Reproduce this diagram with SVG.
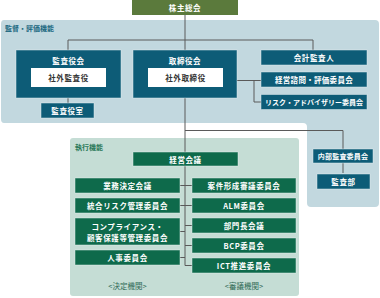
<svg xmlns="http://www.w3.org/2000/svg" width="380" height="298" viewBox="0 0 380 298">
<style>
text{font-family:"Noto Sans CJK JP","Noto Sans",sans-serif;font-weight:bold;text-anchor:middle;dominant-baseline:central}
.t{fill:#0d5c77;stroke:#e6f0f3;stroke-width:0.8;stroke-opacity:0.6}
.g{fill:#0e6a4b;stroke:#e6f2ee;stroke-width:0.8;stroke-opacity:0.6}
.w{fill:#ffffff}
.wt{fill:#ffffff;font-size:7.5px;letter-spacing:0.6px}
.dt{fill:#333333;font-size:7.5px;letter-spacing:0.6px}
.ln{fill:none;stroke:#5a5a5a;stroke-width:1}
.cap{font-size:7px;text-anchor:start}
</style>
<g id="panels">
<path d="M4,20 H375 Q379,20 379,24 V203 Q379,207 375,207 H311 Q307,207 307,203 V127 Q307,123 303,123 H4 Q1,123 1,119 V24 Q1,20 4,20 Z" fill="#c2d8df"/>
<rect x="70" y="138" width="229" height="158" rx="3" fill="#c5ddd5"/>
<text class="cap" x="5" y="28" fill="#1d6a82">監督・評価機能</text>
<text class="cap" x="75" y="147" fill="#2b7a5a">執行機能</text>
</g>
<g id="connectors">
<path class="ln" d="M185,15 V152"/>
<path class="ln" d="M68,50 V40 H313 V50"/>
<path class="ln" d="M68,98 V103"/>
<path class="ln" d="M237,80.5 H261 M254,80.5 V102 H261"/>
<path class="ln" d="M185,130.5 H343 V149 M343,163 V173"/>
<path class="ln" d="M185,166 V265.5 M180,185.5 H192 M180,205.5 H192 M180,231.5 H185 M185,225.5 H192 M185,245.5 H192 M180,257.5 H185 M185,265.5 H192"/>
</g>
<g id="shareholders">
<rect x="132" y="0" width="106" height="15" fill="#5b7a3c"/>
<text class="wt" x="185" y="7.5">株主総会</text>
</g>
<g id="kansayakukai">
<rect class="t" x="16" y="50" width="105" height="48"/>
<text class="wt" x="68.5" y="60">監査役会</text>
<rect class="w" x="31" y="68" width="75" height="19"/>
<text class="dt" x="68.5" y="77.5">社外監査役</text>
</g>
<g id="kansayakushitsu">
<rect class="t" x="41" y="103" width="53" height="15"/>
<text class="wt" x="67.5" y="110.5">監査役室</text>
</g>
<g id="torishimariyakukai">
<rect class="t" x="133" y="50" width="104" height="48"/>
<text class="wt" x="185" y="60">取締役会</text>
<rect class="w" x="148" y="68" width="75" height="19"/>
<text class="dt" x="185.5" y="77.5">社外取締役</text>
</g>
<g id="kaikei">
<rect class="t" x="261" y="50" width="106" height="15"/>
<text class="wt" x="314" y="57.5">会計監査人</text>
</g>
<g id="keiei-shimon">
<rect class="t" x="261" y="72" width="106" height="15"/>
<text class="wt" x="314" y="79.5" style="letter-spacing:0.3px">経営諮問・評価委員会</text>
</g>
<g id="risk-advisory">
<rect class="t" x="261" y="94.5" width="106" height="15"/>
<text class="wt" x="314" y="102" style="font-size:7px;letter-spacing:0">リスク・アドバイザリー委員会</text>
</g>
<g id="naibu-kansa">
<rect class="t" x="313" y="149" width="60" height="14"/>
<text class="wt" x="343" y="156" style="font-size:7px;letter-spacing:0.2px">内部監査委員会</text>
</g>
<g id="kansabu">
<rect class="t" x="317" y="174" width="53" height="15"/>
<text class="wt" x="343.5" y="181.5">監査部</text>
</g>
<g id="keiei-kaigi">
<rect class="g" x="133" y="152" width="105" height="14"/>
<text class="wt" x="185.5" y="159">経営会議</text>
</g>
<g id="gyomu">
<rect class="g" x="75" y="178" width="105" height="15"/>
<text class="wt" x="127.5" y="185.5">業務決定会議</text>
</g>
<g id="togo-risk">
<rect class="g" x="75" y="198" width="105" height="15"/>
<text class="wt" x="127.5" y="205.5">統合リスク管理委員会</text>
</g>
<g id="compliance">
<rect class="g" x="75" y="218" width="105" height="27"/>
<text class="wt" x="127.5" y="226.5">コンプライアンス・</text>
<text class="wt" x="127.5" y="237">顧客保護等管理委員会</text>
</g>
<g id="jinji">
<rect class="g" x="75" y="250" width="105" height="15"/>
<text class="wt" x="127.5" y="257.5">人事委員会</text>
</g>
<g id="anken">
<rect class="g" x="192" y="178" width="104" height="15"/>
<text class="wt" x="244" y="185.5">案件形成審議委員会</text>
</g>
<g id="alm">
<rect class="g" x="192" y="198" width="104" height="15"/>
<text class="wt" x="244" y="205.5">ALM委員会</text>
</g>
<g id="bumoncho">
<rect class="g" x="192" y="218" width="104" height="15"/>
<text class="wt" x="244" y="225.5">部門長会議</text>
</g>
<g id="bcp">
<rect class="g" x="192" y="238" width="104" height="15"/>
<text class="wt" x="244" y="245.5">BCP委員会</text>
</g>
<g id="ict">
<rect class="g" x="192" y="258" width="104" height="15"/>
<text class="wt" x="244" y="265.5">ICT推進委員会</text>
</g>
<g id="captions">
<text x="127.5" y="285" font-size="7.5" fill="#2f6a55" style="font-weight:normal">&lt;決定機関&gt;</text>
<text x="244" y="285" font-size="7.5" fill="#2f6a55" style="font-weight:normal">&lt;審議機関&gt;</text>
</g>
</svg>
